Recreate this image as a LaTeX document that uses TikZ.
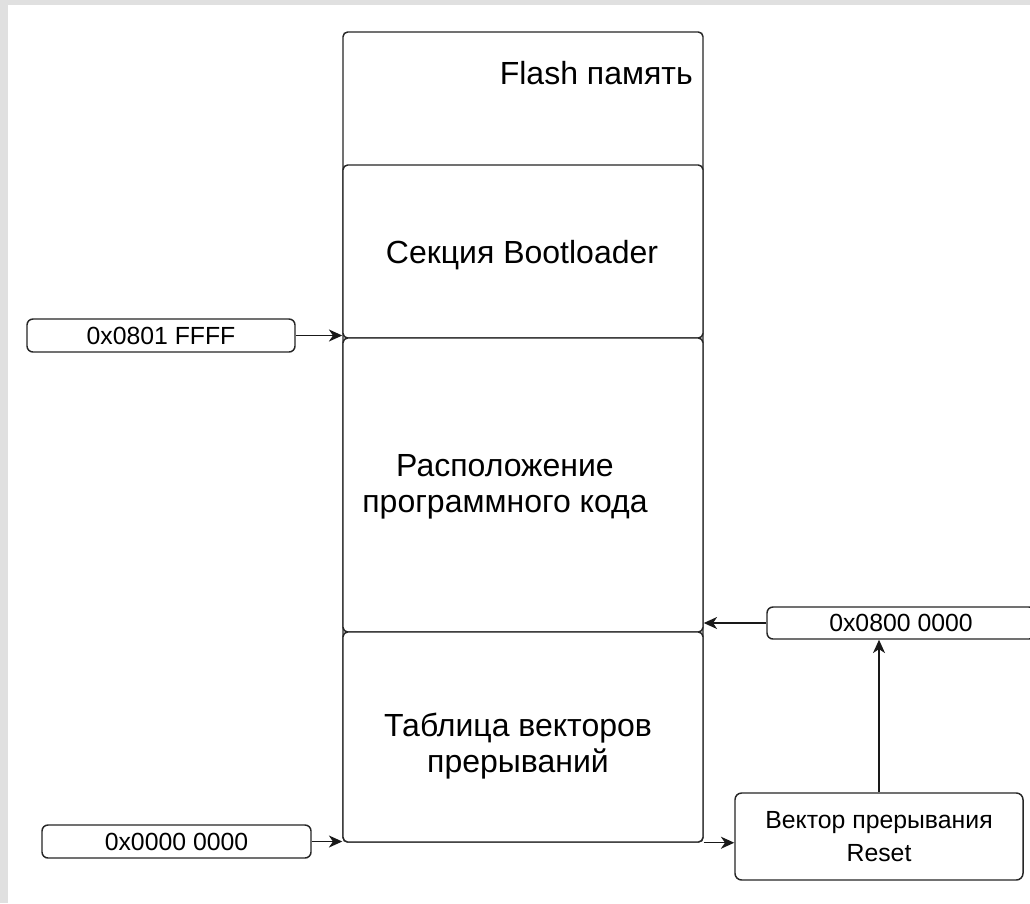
\documentclass[tikz,border=0pt]{standalone}
\usepackage{fontspec}
\setmainfont{Liberation Sans}
\usetikzlibrary{arrows.meta}
\begin{document}
\begin{tikzpicture}[x=0.75pt,y=-0.75pt,
  box/.style={draw=black!85,line width=1.1pt,rounded corners=3.5pt,inner sep=0pt,fill=white},
  addr/.style={box,rounded corners=4.5pt,font=\fontsize{18.6}{22}\selectfont},
  big/.style={inner sep=0pt,align=center,font=\fontsize{24}{27}\selectfont},
  arr/.style={line width=1.1pt,draw=black!90,-{Stealth[length=10pt,width=9pt,inset=3pt]}}]
\useasboundingbox (0,0) rectangle (1030,903);
\fill[black!12] (0,0) rectangle (1030,903);
\fill[white] (8,5) rectangle (1030,903);
\begin{scope}
\clip (8,5) rectangle (1030,903);
% main column
\node[box,minimum width=270pt,minimum height=607.5pt] (flash) at (523,437) {};
\node[box,minimum width=270pt,minimum height=129.75pt] (boot) at (523,251.5) {};
\node[box,minimum width=270pt,minimum height=220.5pt] (prog) at (523,485) {};
\node[box,minimum width=270pt,minimum height=157.5pt] (table) at (523,737) {};
\node[big,anchor=east] (flashlbl) at (693,73) {Flash память};
\node[big] (bootlbl) at (522,255) {Секция Bootloader};
\node[big] (proglbl) at (505,487) {Расположение\\программного кода};
\node[big] (tablelbl) at (518,746) {Таблица векторов\\прерываний};
% address boxes
\node[addr,minimum width=201pt,minimum height=24.75pt] (a1) at (161,335.5) {0x0801 FFFF};
\node[addr,minimum width=201.75pt,minimum height=24.75pt] (a2) at (176.5,841.5) {0x0000 0000};
\node[addr,minimum width=201pt,minimum height=24pt] (a3) at (901,623) {0x0800 0000};
\node[box,rounded corners=5pt,minimum width=216pt,minimum height=65.25pt,align=center,
  font=\fontsize{18.6}{24.75}\selectfont] (reset) at (879,836.5) {Вектор прерывания\\Reset};
% connectors
\draw[arr] (a1.east) -- (a1.east -| prog.west);
\draw[arr] (a2.east) -- (a2.east -| table.west);
\draw[arr] (a3.west) -- (a3.west -| prog.east);
\draw[arr] (table.south east) -- (table.south east -| reset.west);
\draw[arr] (reset.north) -- (reset.north |- a3.south);
\end{scope}
\end{tikzpicture}
\end{document}
